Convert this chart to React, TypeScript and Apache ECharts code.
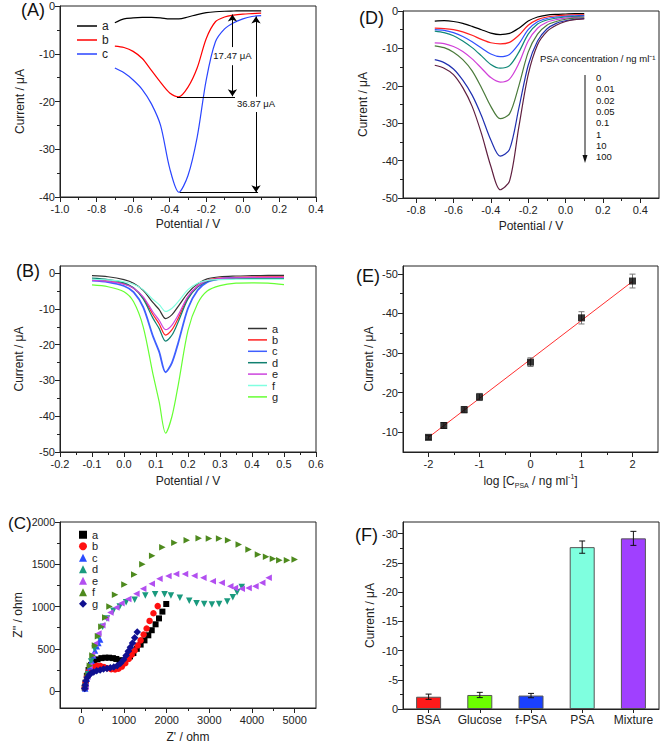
import React, { useEffect, useRef } from "react";
import * as echarts from "echarts";

const FONT = "'Liberation Sans', Arial, Helvetica, sans-serif";
const INK = "#222222";

// ---------- Panel A : DPV of three electrodes ----------
const potA = [-0.7, -0.65, -0.6, -0.55, -0.5, -0.45, -0.4, -0.35, -0.3, -0.25, -0.2, -0.15, -0.1, -0.05, 0, 0.05, 0.1];
const curA_a = [-3.5, -2.7, -2.5, -2.4, -2.4, -2.5, -2.7, -2.7, -2.3, -1.8, -1.4, -1.2, -1.1, -1.05, -1.0, -1.0, -1.0];
const curA_b = [-8.4, -8.7, -9.5, -11, -13.5, -16, -18.2, -19, -17, -13, -6.8, -3.3, -2.3, -1.9, -1.7, -1.6, -1.5];
const curA_c = [-13, -14, -15.5, -17.5, -20.5, -25, -34, -39, -35.5, -27.5, -15.4, -7.5, -4.8, -3.5, -2.7, -2.2, -2.0];
const namesA = ["a", "b", "c"];
const colorsA = ["#000000", "#ff0000", "#2a45ff"];
const ticksA_x = [-1.0, -0.8, -0.6, -0.4, -0.2, 0, 0.2, 0.4];
const minorA_x = [-0.9, -0.7, -0.5, -0.3, -0.1, 0.1, 0.3];
const ticksA_y = [-40, -30, -20, -10, 0];
const minorA_y = [-35, -25, -15, -5];
// annotation arrows (data coords)
const annoA_v1 = [-0.057, -1.8, -8.6, -12.4, -18.9];
const annoA_v2 = [0.072, -2.2, -19.0, -22.2, -39.0];
const annoA_h1 = [-0.36, -0.043, -19.1];
const annoA_h2 = [-0.345, 0.083, -39.1];
const annoA_txt = ["17.47 μA", "36.87 μA"];

// ---------- Panel B ----------
const potB = [-0.1, -0.05, 0, 0.03, 0.06, 0.09, 0.11, 0.13, 0.15, 0.17, 0.2, 0.23, 0.26, 0.3, 0.35, 0.4, 0.45, 0.5];
const curB_a = [-0.7, -1.0, -1.8, -2.8, -4.8, -8.2, -10.2, -12.7, -11.6, -9.2, -5.5, -3.0, -1.6, -1.0, -0.8, -0.7, -0.6, -0.6];
const curB_b = [-1.9, -2.2, -3.0, -4.2, -6.9, -11.5, -14.2, -17.3, -15.8, -12.5, -6.8, -3.6, -2.0, -1.4, -1.2, -1.1, -1.0, -1.0];
const curB_c = [-2.1, -2.5, -3.6, -5.3, -9.5, -17.5, -22, -27.7, -25, -19.3, -9.8, -4.8, -2.5, -1.6, -1.4, -1.3, -1.3, -1.3];
const curB_d = [-1.4, -1.8, -2.7, -4.1, -7.2, -12.5, -15.5, -19, -17.3, -13.5, -7.2, -3.9, -2.3, -1.7, -1.5, -1.5, -1.5, -1.5];
const curB_e = [-2.0, -2.3, -3.1, -4.2, -6.6, -10.8, -13.2, -15.8, -14.5, -11.6, -6.5, -3.6, -2.1, -1.5, -1.3, -1.2, -1.2, -1.2];
const curB_f = [-1.7, -1.9, -2.4, -3.1, -4.6, -7.3, -8.8, -10.7, -9.8, -7.9, -4.6, -2.8, -2.0, -1.8, -1.7, -1.7, -1.7, -1.7];
const curB_g = [-3.3, -3.8, -5.2, -8, -15, -28, -36, -44.7, -40, -31, -16, -8.5, -5, -3.5, -2.8, -2.7, -2.8, -3.2];
const namesB = ["a", "b", "c", "d", "e", "f", "g"];
const colorsB = ["#333333", "#ff2020", "#3f5fff", "#108070", "#cc44dd", "#80ffe0", "#66ff33"];
const ticksB_x = [-0.2, -0.1, 0, 0.1, 0.2, 0.3, 0.4, 0.5, 0.6];
const minorB_x = [-0.15, -0.05, 0.05, 0.15, 0.25, 0.35, 0.45, 0.55];
const ticksB_y = [-50, -40, -30, -20, -10, 0];
const minorB_y = [-45, -35, -25, -15, -5];

// ---------- Panel C : Nyquist plots [Z', Z''] ----------
const nyq_a = [[80, 40], [100, 100], [130, 180], [170, 250], [230, 310], [300, 350], [380, 375], [470, 390], [560, 395], [650, 395], [740, 390], [820, 380], [900, 365], [980, 360], [1060, 380], [1140, 410], [1220, 450], [1300, 500], [1390, 550], [1480, 600], [1570, 660], [1650, 720], [1740, 790], [1820, 860], [1900, 940], [1990, 1030]];
const nyq_b = [[80, 40], [100, 100], [130, 170], [170, 230], [220, 270], [290, 295], [370, 300], [450, 295], [530, 285], [610, 270], [700, 260], [790, 255], [870, 265], [950, 290], [1030, 330], [1110, 380], [1180, 430], [1250, 480], [1320, 540], [1390, 600], [1460, 670], [1530, 740], [1600, 830], [1690, 920], [1790, 1005]];
const nyq_c = [[90, 30], [110, 90], [130, 150], [160, 220], [200, 290], [240, 360], [280, 420], [320, 480], [360, 530], [400, 570], [440, 610]];
const nyq_d = [[100, 50], [160, 200], [230, 350], [310, 500], [400, 640], [500, 760], [600, 860], [750, 950], [900, 1000], [1050, 1050], [1250, 1080], [1500, 1130], [1730, 1145], [1950, 1145], [2100, 1130], [2310, 1105], [2530, 1070], [2700, 1040], [2880, 1030], [3060, 1025], [3230, 1030], [3420, 1060], [3550, 1110], [3650, 1170], [3760, 1230]];
const nyq_e = [[100, 50], [140, 170], [190, 300], [250, 430], [320, 560], [400, 680], [490, 780], [580, 860], [680, 930], [820, 990], [940, 1040], [1100, 1090], [1290, 1150], [1450, 1210], [1650, 1270], [1830, 1330], [2040, 1360], [2220, 1385], [2430, 1385], [2650, 1365], [2860, 1340], [3080, 1300], [3290, 1280], [3490, 1240], [3600, 1220], [3760, 1210], [3920, 1220], [4080, 1240], [4240, 1280], [4390, 1340]];
const nyq_f = [[100, 50], [150, 180], [200, 300], [260, 420], [320, 540], [390, 650], [470, 760], [560, 870], [660, 1000], [790, 1140], [1010, 1260], [1240, 1380], [1430, 1500], [1660, 1600], [1900, 1700], [2180, 1755], [2470, 1785], [2750, 1808], [2990, 1804], [3230, 1804], [3440, 1784], [3690, 1733], [3920, 1675], [4140, 1616], [4330, 1588], [4490, 1565], [4640, 1549], [4820, 1549], [5000, 1557]];
const nyq_g = [[80, 30], [90, 70], [110, 120], [140, 160], [180, 190], [230, 210], [290, 225], [360, 240], [440, 250], [520, 260], [600, 268], [680, 275], [760, 285], [840, 300], [920, 330], [990, 370], [1050, 420], [1100, 470], [1150, 520], [1200, 570], [1250, 630], [1310, 700]];
const namesC = ["a", "b", "c", "d", "e", "f", "g"];
const colorsC = ["#000000", "#ff1010", "#2a4cff", "#1a9a7e", "#b24ff0", "#4e8a1e", "#101090"];
const symbolsC = ["rect", "circle", "triangle", "triangle", "triangle", "triangle", "diamond"];
const rotC = [0, 0, 0, 180, 90, -90, 0];
const sizesC = [6, 6.5, 6.5, 6.5, 6.5, 6.5, 7.5];
const ticksC_x = [0, 1000, 2000, 3000, 4000, 5000];
const minorC_x = [500, 1500, 2500, 3500, 4500];
const ticksC_y = [0, 500, 1000, 1500, 2000];
const minorC_y = [250, 750, 1250, 1750];

// ---------- Panel D : concentrations ----------
const concD = ["0", "0.01", "0.02", "0.05", "0.1", "1", "10", "100"];
const curD_0 = [-2.7, -2.6, -2.8, -3.3, -4.1, -5, -5.9, -6.3, -6, -4.6, -2.7, -1.6, -1.1, -0.9, -0.8, -0.7, -0.7];
const curD_1 = [-4.6, -4.7, -5, -5.6, -6.5, -7.6, -8.5, -8.8, -8.4, -6.5, -3.8, -2.3, -1.6, -1.3, -1.1, -1.0, -1.0];
const curD_2 = [-5, -5.2, -5.8, -6.8, -8.2, -9.9, -11.5, -12.2, -11.6, -8.8, -5, -2.9, -2, -1.6, -1.4, -1.3, -1.2];
const curD_3 = [-5.4, -5.8, -6.6, -8, -9.8, -12, -14.3, -15.3, -14.6, -11, -6.2, -3.5, -2.4, -1.9, -1.6, -1.5, -1.4];
const curD_4 = [-8.5, -8.7, -9.5, -10.8, -12.8, -15.3, -17.8, -19, -18.2, -14, -8, -4.6, -3, -2.3, -1.9, -1.7, -1.6];
const curD_5 = [-9.3, -9.8, -11, -13, -16, -20.5, -25.5, -28.8, -27.5, -20, -11, -6.2, -3.8, -2.8, -2.2, -1.9, -1.8];
const curD_6 = [-13, -13.8, -15.5, -18.5, -22.5, -28, -34.5, -38.8, -37, -26, -14.5, -8, -4.8, -3.3, -2.6, -2.2, -2.0];
const curD_7 = [-14.5, -15.3, -17, -20.5, -25.5, -32.8, -41.5, -47.8, -45.5, -31, -17, -9, -5.5, -3.8, -2.8, -2.3, -2.1];
const colorsD = ["#000000", "#ff2020", "#3050ff", "#108878", "#d040d8", "#4a7a3a", "#2030b0", "#602040"];
const ticksD_x = [-0.8, -0.6, -0.4, -0.2, 0, 0.2, 0.4];
const minorD_x = [-0.7, -0.5, -0.3, -0.1, 0.1, 0.3];
const ticksD_y = [-50, -40, -30, -20, -10, 0];
const minorD_y = [-45, -35, -25, -15, -5];

// ---------- Panel E : calibration ----------
const logC = [-2, -1.7, -1.3, -1, 0, 1, 2];
const curE = [-8.7, -11.7, -15.7, -18.9, -27.7, -38.9, -48.2];
const errE = [0.5, 0.75, 0.8, 0.9, 1.1, 1.55, 1.75];
const fitX = [-2, 2];
const fitY = [-8.7, -48.1];
const ticksE_x = [-2, -1, 0, 1, 2];
const minorE_x = [-1.5, -0.5, 0.5, 1.5];
const ticksE_y = [-50, -40, -30, -20, -10];
const minorE_y = [-45, -35, -25, -15];

// ---------- Panel F : selectivity ----------
const catsF = ["BSA", "Glucose", "f-PSA", "PSA", "Mixture"];
const valsF = [-2.1, -2.4, -2.3, -27.7, -29.2];
const errF = [0.45, 0.45, 0.37, 1.05, 1.2];
const colorsF = ["#ff1a1a", "#6cff00", "#1a40ff", "#7fffdf", "#a040ff"];
const ticksF_y = [0, -5, -10, -15, -20, -25, -30];
const minorF_y = [-2.5, -7.5, -12.5, -17.5, -22.5, -27.5];

// ---------- layout ----------
const grids = [
  { left: 60, top: 6, width: 256, height: 191 },   // A
  { left: 60, top: 266, width: 256, height: 186 }, // B
  { left: 60, top: 522, width: 256, height: 186 }, // C
  { left: 403, top: 11, width: 256, height: 187 }, // D
  { left: 403, top: 266, width: 255, height: 186 },// E
  { left: 403, top: 522, width: 256, height: 187 },// F
];

const f1 = (v: number) => (Math.abs(v) < 1e-9 ? "0.0" : v.toFixed(1));
const f0 = (v: number) => String(Math.round(v));

function axes(dim: "x" | "y", grid: number, min: number, max: number, major: number[], minor: number[], fmt: (v: number) => string, o: any = {}) {
  const common = {
    type: "value",
    gridIndex: grid,
    min,
    max,
    inverse: !!o.inverse,
    position: dim === "x" ? "bottom" : "left",
    splitLine: { show: false },
  };
  const main = {
    ...common,
    axisLine: { show: true, onZero: false, lineStyle: { color: INK, width: 1 } },
    axisTick: { show: true, inside: false, length: 5, customValues: major, lineStyle: { color: INK } },
    axisLabel: { show: true, customValues: major, formatter: fmt, color: INK, fontSize: o.labelSize || 11, fontFamily: FONT, margin: dim === "x" ? 6 : 5 },
    name: o.name || "",
    nameLocation: "middle",
    nameGap: o.nameGap || 20,
    nameTextStyle: { fontSize: 12, fontFamily: FONT, color: INK, ...(o.nameStyle || {}) },
  };
  const mn = {
    ...common,
    axisLine: { show: false, onZero: false },
    axisTick: { show: true, inside: false, length: 3, customValues: minor, lineStyle: { color: INK } },
    axisLabel: { show: false },
  };
  return [main, mn];
}

const xAxes: any[] = [
  ...axes("x", 0, -1.0, 0.4, ticksA_x, minorA_x, f1, { name: "Potential / V", nameGap: 21 }),
  ...axes("x", 1, -0.2, 0.6, ticksB_x, minorB_x, f1, { name: "Potential / V", nameGap: 23 }),
  ...axes("x", 2, -500, 5500, ticksC_x, minorC_x, f0, { name: "Z' / ohm", nameGap: 23 }),
  ...axes("x", 3, -0.87, 0.5, ticksD_x, minorD_x, f1, { name: "Potential / V", nameGap: 22 }),
  ...axes("x", 4, -2.5, 2.5, ticksE_x, minorE_x, f0, {
    name: "{n|log [C}{s|PSA}{n| / ng ml}{p|-1}{n|]}",
    nameGap: 21,
    nameStyle: {
      rich: {
        n: { fontSize: 12, fontFamily: FONT, color: INK, lineHeight: 16 },
        s: { fontSize: 7, fontFamily: FONT, color: INK, lineHeight: 9, verticalAlign: "bottom" },
        p: { fontSize: 7, fontFamily: FONT, color: INK, lineHeight: 9, verticalAlign: "top" },
      },
    },
  }),
  {
    type: "category",
    gridIndex: 5,
    data: catsF,
    position: "bottom",
    axisLine: { show: true, onZero: false, lineStyle: { color: INK } },
    axisTick: { show: true, alignWithLabel: true, length: 4, lineStyle: { color: INK } },
    axisLabel: { color: INK, fontSize: 12, fontFamily: FONT, margin: 5, interval: 0 },
    splitLine: { show: false },
  },
  { type: "category", gridIndex: 5, data: catsF, show: false },
];

const yName = "Current / μA";
const yAxes: any[] = [
  ...axes("y", 0, -40, 0, ticksA_y, minorA_y, f0, { name: yName, nameGap: 34 }),
  ...axes("y", 1, -50, 2, ticksB_y, minorB_y, f0, { name: yName, nameGap: 35 }),
  ...axes("y", 2, -200, 2000, ticksC_y, minorC_y, f0, { name: "Z'' / ohm", nameGap: 36, labelSize: 10.5 }),
  ...axes("y", 3, -50, 0, ticksD_y, minorD_y, f0, { name: yName, nameGap: 34 }),
  ...axes("y", 4, -52, -5, ticksE_y, minorE_y, f0, { name: yName, nameGap: 28, inverse: true }),
  ...axes("y", 5, -32, 0, ticksF_y, minorF_y, f0, { name: yName, nameGap: 27, inverse: true }),
];

const pair = (xs: number[], ys: number[]) => xs.map((x, i) => [x, ys[i]]);

const series: any[] = [];

// Panel A lines
[curA_a, curA_b, curA_c].forEach((ys, i) => {
  series.push({
    type: "line",
    name: "A|" + namesA[i],
    xAxisIndex: 0,
    yAxisIndex: 0,
    data: pair(potA, ys),
    smooth: 0.3,
    symbol: "none",
    color: colorsA[i],
    lineStyle: { width: 1.2, color: colorsA[i] },
  });
});
const seg = (x1: number, y1: number, x2: number, y2: number, arrow: boolean) => [
  { coord: [x1, y1], symbol: "none" },
  { coord: [x2, y2], symbol: arrow ? "arrow" : "none" },
];
series.push({
  type: "line",
  name: "A|anno",
  xAxisIndex: 0,
  yAxisIndex: 0,
  data: [],
  symbol: "none",
  markLine: {
    silent: true,
    symbolSize: 7,
    label: { show: false },
    lineStyle: { color: "#000", width: 1, type: "solid" },
    data: [
      seg(annoA_v1[0], annoA_v1[2], annoA_v1[0], annoA_v1[1], true),
      seg(annoA_v1[0], annoA_v1[3], annoA_v1[0], annoA_v1[4], true),
      seg(annoA_h1[0], annoA_h1[2], annoA_h1[1], annoA_h1[2], false),
      seg(annoA_v2[0], annoA_v2[2], annoA_v2[0], annoA_v2[1], true),
      seg(annoA_v2[0], annoA_v2[3], annoA_v2[0], annoA_v2[4], true),
      seg(annoA_h2[0], annoA_h2[2], annoA_h2[1], annoA_h2[2], false),
    ],
  },
  markPoint: {
    silent: true,
    symbol: "rect",
    symbolSize: 1,
    itemStyle: { color: "rgba(0,0,0,0)" },
    label: { show: true, position: "inside", formatter: "{b}", color: "#111", fontSize: 9.5, fontFamily: FONT },
    data: [
      { name: annoA_txt[0], coord: [annoA_v1[0], -10.4] },
      { name: annoA_txt[1], coord: [annoA_v2[0], -20.5] },
    ],
  },
});

// Panel B lines
[curB_a, curB_b, curB_c, curB_d, curB_e, curB_f, curB_g].forEach((ys, i) => {
  series.push({
    type: "line",
    name: "B|" + namesB[i],
    xAxisIndex: 2,
    yAxisIndex: 2,
    data: pair(potB, ys),
    smooth: 0.3,
    symbol: "none",
    color: colorsB[i],
    lineStyle: { width: i === 2 ? 1.8 : 1.2, color: colorsB[i] },
  });
});

// Panel C scatter
[nyq_a, nyq_b, nyq_c, nyq_d, nyq_e, nyq_f, nyq_g].forEach((pts, i) => {
  series.push({
    type: "scatter",
    name: "C|" + namesC[i],
    xAxisIndex: 4,
    yAxisIndex: 4,
    data: pts,
    symbol: symbolsC[i],
    symbolSize: sizesC[i],
    symbolRotate: rotC[i],
    color: colorsC[i],
    itemStyle: { color: colorsC[i], opacity: 1 },
  });
});

// Panel D lines
[curD_0, curD_1, curD_2, curD_3, curD_4, curD_5, curD_6, curD_7].forEach((ys, i) => {
  series.push({
    type: "line",
    name: "D|" + concD[i],
    xAxisIndex: 6,
    yAxisIndex: 6,
    data: pair(potA, ys),
    smooth: 0.3,
    symbol: "none",
    color: colorsD[i],
    lineStyle: { width: 1.2, color: colorsD[i] },
  });
});

// Panel E
series.push({
  type: "line",
  name: "E|fit",
  xAxisIndex: 8,
  yAxisIndex: 8,
  data: pair(fitX, fitY),
  symbol: "none",
  lineStyle: { color: "#ff3030", width: 1 },
  z: 2,
});
series.push({
  type: "custom",
  name: "E|err",
  xAxisIndex: 8,
  yAxisIndex: 8,
  data: logC.map((x, i) => [x, curE[i], errE[i]]),
  encode: { x: 0, y: 1 },
  z: 3,
  renderItem: (_p: any, api: any) => {
    const x = api.value(0), y = api.value(1), e = api.value(2);
    const a = api.coord([x, y - e]);
    const b = api.coord([x, y + e]);
    const w = 3;
    const style = { stroke: "#777", lineWidth: 1 };
    return {
      type: "group",
      children: [
        { type: "line", shape: { x1: a[0], y1: a[1], x2: b[0], y2: b[1] }, style },
        { type: "line", shape: { x1: a[0] - w, y1: a[1], x2: a[0] + w, y2: a[1] }, style },
        { type: "line", shape: { x1: b[0] - w, y1: b[1], x2: b[0] + w, y2: b[1] }, style },
      ],
    };
  },
});
series.push({
  type: "scatter",
  name: "E|pts",
  xAxisIndex: 8,
  yAxisIndex: 8,
  data: pair(logC, curE),
  symbol: "rect",
  symbolSize: 7,
  itemStyle: { color: "#000" },
  z: 4,
});

// Panel F
series.push({
  type: "bar",
  name: "F|bars",
  xAxisIndex: 10,
  yAxisIndex: 10,
  barWidth: 25,
  data: valsF.map((v, i) => ({ value: v, itemStyle: { color: colorsF[i], borderColor: "#555", borderWidth: 1 } })),
});
series.push({
  type: "custom",
  name: "F|err",
  xAxisIndex: 10,
  yAxisIndex: 10,
  data: valsF.map((v, i) => [i, v, errF[i]]),
  encode: { x: 0, y: 1 },
  z: 5,
  renderItem: (_p: any, api: any) => {
    const x = api.value(0), y = api.value(1), e = api.value(2);
    const a = api.coord([x, y - e]);
    const b = api.coord([x, y + e]);
    const w = 3;
    const style = { stroke: "#111", lineWidth: 1 };
    return {
      type: "group",
      children: [
        { type: "line", shape: { x1: a[0], y1: a[1], x2: b[0], y2: b[1] }, style },
        { type: "line", shape: { x1: a[0] - w, y1: a[1], x2: a[0] + w, y2: a[1] }, style },
        { type: "line", shape: { x1: b[0] - w, y1: b[1], x2: b[0] + w, y2: b[1] }, style },
      ],
    };
  },
});

const strip = (n: string) => n.split("|")[1];
const legendText = (fs: number, lh: number) => ({ fontSize: fs, lineHeight: lh, color: INK, fontFamily: FONT });

const legends = [
  {
    left: 72, top: 15, orient: "vertical", itemWidth: 20, itemHeight: 1.5, itemGap: 2, icon: "rect",
    data: namesA.map((n) => "A|" + n), formatter: strip, textStyle: legendText(12, 12), selectedMode: false,
  },
  {
    left: 243, top: 318, orient: "vertical", itemWidth: 19, itemHeight: 1.5, itemGap: 0.4, icon: "rect",
    data: namesB.map((n) => "B|" + n), formatter: strip, textStyle: legendText(11, 11), selectedMode: false,
  },
  {
    left: 74, top: 524, orient: "vertical", itemWidth: 8, itemHeight: 8, itemGap: 0,
    data: namesC.map((n) => "C|" + n), formatter: strip, textStyle: legendText(11, 11.5), selectedMode: false,
  },
];

const panelLabel = (t: string, x: number, y: number, fs = 18) => ({
  type: "text", left: x, top: y, style: { text: t, fontSize: fs, fontFamily: FONT, fill: "#111" },
});

const graphics: any[] = [
  panelLabel("(A)", 21, 1),
  panelLabel("(B)", 16, 262),
  panelLabel("(C)", 8, 515, 17),
  panelLabel("(D)", 359, 9),
  panelLabel("(E)", 356, 267),
  panelLabel("(F)", 355, 526),
  { type: "text", left: 540, top: 53, style: { text: "PSA concentration / ng ml⁻¹", fontSize: 9.5, fontFamily: FONT, fill: "#111" } },
  ...concD.map((c, i) => ({
    type: "text", left: 596, top: 72.5 + i * 11.3, style: { text: c, fontSize: 9.5, fontFamily: FONT, fill: "#111" },
  })),
  { type: "line", shape: { x1: 585, y1: 75, x2: 585, y2: 157 }, style: { stroke: "#111", lineWidth: 1 } },
  { type: "polygon", shape: { points: [[582.5, 155], [587.5, 155], [585, 163]] }, style: { fill: "#111" } },
];

const option: any = {
  animation: false,
  backgroundColor: "#ffffff",
  textStyle: { fontFamily: FONT },
  grid: grids.map((g) => ({ ...g, show: true, borderColor: INK, borderWidth: 1, containLabel: false })),
  xAxis: xAxes,
  yAxis: yAxes,
  legend: legends,
  series,
  graphic: graphics,
};

export default function App() {
  const ref = useRef<HTMLDivElement>(null);
  useEffect(() => {
    document.body.style.margin = "0";
    const chart = echarts.init(ref.current as HTMLDivElement, undefined, { renderer: "svg" });
    chart.setOption(option);
    return () => chart.dispose();
  }, []);
  return <div ref={ref} style={{ width: 661, height: 745 }} />;
}
